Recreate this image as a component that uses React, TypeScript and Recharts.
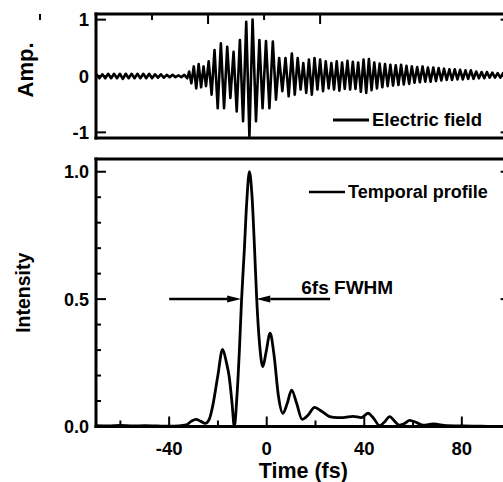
import React from 'react'
import { LineChart, Line, XAxis, YAxis, Legend, ReferenceLine, ReferenceDot } from 'recharts'

const FONT = '"Liberation Sans", Arial, Helvetica, sans-serif'

// electric field: extrema (fs, arb. units)
const fieldTime = [
  -70.0, -69.8, -68.6, -67.4, -66.2, -65.0, -63.8, -62.6, -61.4, -60.2, -59.0, -57.8, -56.6, -55.4,
  -54.2, -53.0, -51.8, -50.6, -49.4, -48.2, -47.0, -45.8, -44.6, -43.4, -42.2, -41.0, -39.8, -38.6,
  -37.4, -36.2, -35.0, -33.8, -32.6, -31.8, -30.9, -29.9, -28.9, -27.9, -26.9, -25.9, -24.9, -23.8,
  -22.6, -21.4, -20.1, -18.8, -17.5, -16.2, -14.9, -13.6, -12.3, -11.0, -9.7, -8.4, -7.1, -5.8,
  -4.4, -3.0, -1.7, -0.3, 1.1, 2.5, 3.8, 5.1, 6.4, 7.7, 9.0, 10.3, 11.5, 12.7, 13.9, 15.0, 16.2,
  17.3, 18.5, 19.6, 20.8, 21.9, 23.1, 24.2, 25.4, 26.5, 27.6, 28.7, 29.8, 30.9, 32.0, 33.1, 34.2,
  35.3, 36.4, 37.5, 38.6, 39.7, 40.8, 41.9, 43.0, 44.1, 45.2, 46.3, 47.4, 48.5, 49.6, 50.7, 51.8,
  52.9, 54.0, 55.1, 56.2, 57.3, 58.4, 59.5, 60.6, 61.7, 62.8, 63.9, 65.0, 66.1, 67.2, 68.3, 69.4,
  70.5, 71.6, 72.7, 73.8, 74.9, 76.0, 77.1, 78.2, 79.3, 80.4, 81.5, 82.6, 83.7, 84.8, 85.9, 87.0,
  88.1, 89.2, 90.3, 91.4, 92.5, 93.6, 94.7, 95.8, 96.9, 98.0, 99.1, 100.0,
]
const fieldAmp = [
  0, 0.03, -0.04, 0.03, -0.04, 0.04, -0.04, 0.04, -0.04, 0.04, -0.05, 0.04, -0.04, 0.04,
  -0.04, 0.04, -0.04, 0.04, -0.04, 0.04, -0.04, 0.03, -0.03, 0.03, -0.03, 0.02, -0.02, 0.02,
  -0.02, 0.01, -0.02, 0.02, -0.04, 0.08, -0.13, 0.17, -0.22, 0.21, -0.2, 0.17, -0.18, 0.26,
  -0.33, 0.46, -0.57, 0.58, -0.57, 0.52, -0.39, 0.43, -0.63, 0.64, -0.8, 0.96, -1.07, 1.0,
  -0.8, 0.64, -0.57, 0.62, -0.57, 0.61, -0.42, 0.32, -0.27, 0.32, -0.36, 0.4, -0.33, 0.32, -0.24, 0.23, -0.3,
  0.29, -0.33, 0.32, -0.24, 0.29, -0.27, 0.26, -0.22, 0.23, -0.24, 0.26, -0.26, 0.24, -0.23, 0.27, -0.24,
  0.25, -0.23, 0.24, -0.28, 0.29, -0.3, 0.3, -0.25, 0.24, -0.22, 0.22, -0.2, 0.21, -0.18, 0.2, -0.17,
  0.19, -0.16, 0.2, -0.15, 0.18, -0.14, 0.17, -0.12, 0.16, -0.11, 0.17, -0.1, 0.15, -0.1, 0.15, -0.09,
  0.14, -0.08, 0.13, -0.07, 0.12, -0.07, 0.12, -0.06, 0.11, -0.06, 0.1, -0.05, 0.1, -0.05, 0.08, -0.04,
  0.07, -0.04, 0.07, -0.03, 0.06, -0.03, 0.05, -0.03, 0.05, -0.02, 0.04, 0,
]

// temporal intensity profile (lower panel)
const profileTime = [
  -70, -65, -60, -55, -50, -45, -40, -36, -33, -31, -29, -27, -25.2, -23.5, -22.2, -20.1, -18.1,
  -16.5, -15.4, -14.2, -13.3, -12.2, -11.2, -10.3, -9.2, -8.2, -7.1, -6.0, -5.0, -4.1, -2.9, -1.6,
  -0.3, 1.4, 3.0, 4.8, 6.6, 8.4, 10.2, 12.3, 14.5, 17.0, 19.6, 22.5, 25.8, 29, 31.3, 35.4, 38.8,
  41.5, 44, 46.3, 48.5, 50.4, 52.5, 54.3, 56.5, 58.6, 61.5, 64.2, 68.3, 73.8, 80.7, 88, 95, 100,
]
const profileIntensity = [
  0.003, 0.002, 0.004, 0.002, 0.003, 0.002, 0.001, 0.002, 0.006, 0.02, 0.028, 0.02, 0.012, 0.03,
  0.078, 0.196, 0.303, 0.25, 0.196, 0.09, 0.0, 0.12, 0.3, 0.5, 0.69, 0.88, 1.0, 0.9, 0.7, 0.5, 0.32,
  0.235, 0.29, 0.366, 0.28, 0.12, 0.052, 0.09, 0.143, 0.09, 0.028, 0.045, 0.075, 0.06, 0.039, 0.035,
  0.035, 0.04, 0.035, 0.052, 0.03, 0.003, 0.02, 0.039, 0.02, 0.005, 0.012, 0.024, 0.015, 0.005,
  0.01, 0.003, 0.002, 0.001, 0, 0,
]

const timeTicks = [-60, -40, -20, 0, 20, 40, 60, 80]
const timeLabels = [-40, 0, 40, 80]
const ampTicks = [-1, 0, 1]
const intensityTicks = [0, 0.1, 0.2, 0.3, 0.4, 0.5, 0.6, 0.7, 0.8, 0.9, 1.0]
const intensityLabels = [0, 0.5, 1]

// FWHM arrows at half maximum: tail -> tip (fs)
const fwhmLevel = 0.5
const fwhmArrows = [
  { from: -40, to: -10.5 },
  { from: 26, to: -4.3 },
]

const fieldData = fieldTime.map((t, i) => ({ t, amp: fieldAmp[i] }))
const profileData = profileTime.map((t, i) => ({ t, intensity: profileIntensity[i] }))

const frame = { stroke: '#000', strokeWidth: 3, strokeLinecap: 'square' as const }
const textStyle = { fontFamily: FONT, fill: '#000', fontWeight: 'bold' as const }

const BottomTimeTick = (props: any) => {
  const { x, y, payload } = props
  const major = payload.value % 40 === 0
  return (
    <g>
      <line x1={x} x2={x} y1={y} y2={y - (major ? 10 : 6)} stroke="#000" strokeWidth={2} />
      {timeLabels.includes(payload.value) && (
        <text x={x} y={y + 28.5} textAnchor="middle" fontSize={18.5} {...textStyle}>
          {payload.value}
        </text>
      )}
    </g>
  )
}

const TopTimeTick = (props: any) => {
  const { x, y, payload } = props
  const major = payload.value % 40 === 0
  return <line x1={x} x2={x} y1={y} y2={y + (major ? 10 : 6)} stroke="#000" strokeWidth={2} />
}

const makeLeftTick = (labels: number[], fmt: (v: number) => string, size: number) => (props: any) => {
  const { x, y, payload } = props
  const major = labels.some((l) => Math.abs(l - payload.value) < 1e-6)
  return (
    <g>
      <line x1={x} x2={x + (major ? 10 : 5)} y1={y} y2={y} stroke="#000" strokeWidth={2} />
      {major && (
        <text x={x - 7} y={y + 6.5} textAnchor="end" fontSize={size} {...textStyle}>
          {fmt(payload.value)}
        </text>
      )}
    </g>
  )
}

const makeRightTick = (labels: number[]) => (props: any) => {
  const { x, y, payload } = props
  const major = labels.some((l) => Math.abs(l - payload.value) < 1e-6)
  return <line x1={x} x2={x - (major ? 10 : 5)} y1={y} y2={y} stroke="#000" strokeWidth={2} />
}

const yTitle = (value: string, left: number, shift: number, size: number) => (props: any) => {
  const vb = props.viewBox
  const cx = vb.x + left
  const cy = vb.y + vb.height / 2 + shift
  return (
    <text
      x={cx}
      y={cy}
      transform={`rotate(-90 ${cx} ${cy})`}
      textAnchor="middle"
      dominantBaseline="central"
      fontSize={size}
      {...textStyle}
    >
      {value}
    </text>
  )
}

const legendContent = (lineWidth: number, fontSize: number) => (props: any) => {
  const item = props.payload?.[0]
  return (
    <div style={{ display: 'flex', alignItems: 'center', height: 22 }}>
      <svg width={36} height={22}>
        <line x1={0} x2={36} y1={11} y2={11} stroke="#000" strokeWidth={lineWidth} />
      </svg>
      <span
        style={{
          marginLeft: 3,
          fontSize,
          fontFamily: FONT,
          fontWeight: 'bold',
          color: '#000',
          lineHeight: '22px',
          whiteSpace: 'nowrap',
        }}
      >
        {item?.value}
      </span>
    </div>
  )
}

const Arrow = (props: any) => {
  const { x1, y1, x2, y2 } = props
  const dir = x2 > x1 ? 1 : -1
  const head = 14
  return (
    <g>
      <line x1={x1} y1={y1} x2={x2 - dir * head} y2={y2} stroke="#000" strokeWidth={2.5} />
      <polygon
        points={`${x2},${y2} ${x2 - dir * head},${y2 - 3.5} ${x2 - dir * head},${y2 + 3.5}`}
        fill="#000"
      />
    </g>
  )
}

const X_DOMAIN: [number, number] = [-70, 100]

export default function App() {
  return (
    <div
      style={{ position: 'absolute', left: 0, top: 0, width: 503, height: 482, overflow: 'hidden', background: '#fff' }}
    >
      <LineChart width={520} height={150} data={fieldData} margin={{ top: 13, right: 8.4, bottom: 11, left: 0 }}>
        <XAxis
          xAxisId="top"
          orientation="top"
          type="number"
          domain={X_DOMAIN}
          allowDataOverflow
          ticks={timeTicks}
          interval={0}
          height={1}
          tickSize={0}
          tickMargin={0}
          tickLine={false}
          tick={TopTimeTick}
          axisLine={frame}
        />
        <XAxis
          xAxisId="main"
          dataKey="t"
          type="number"
          domain={X_DOMAIN}
          allowDataOverflow
          height={1}
          tick={false}
          tickLine={false}
          axisLine={frame}
        />
        <YAxis
          yAxisId="left"
          domain={[-1.1, 1.1]}
          allowDataOverflow
          ticks={ampTicks}
          interval={0}
          width={96}
          tickSize={0}
          tickMargin={0}
          tickLine={false}
          tick={makeLeftTick(ampTicks, (v) => String(v), 18.5)}
          axisLine={frame}
          label={yTitle('Amp.', 25, -6, 22)}
        />
        <YAxis
          yAxisId="right"
          orientation="right"
          domain={[-1.1, 1.1]}
          allowDataOverflow
          ticks={ampTicks}
          interval={0}
          width={1}
          tickSize={0}
          tickMargin={0}
          tickLine={false}
          tick={makeRightTick(ampTicks)}
          axisLine={frame}
        />
        <Legend
          layout="vertical"
          verticalAlign="middle"
          align="center"
          wrapperStyle={{ left: 333, top: 109, width: 'auto' }}
          content={legendContent(3, 18.5)}
        />
        <Line
          xAxisId="main"
          yAxisId="left"
          name="Electric field"
          type="linear"
          dataKey="amp"
          stroke="#000"
          strokeWidth={2.6}
          strokeLinejoin="round"
          dot={false}
          isAnimationActive={false}
        />
      </LineChart>
      <LineChart width={520} height={332} data={profileData} margin={{ top: 8, right: 8.4, bottom: 54.5, left: 0 }}>
        <XAxis
          xAxisId="top"
          orientation="top"
          type="number"
          domain={X_DOMAIN}
          allowDataOverflow
          height={1}
          tick={false}
          tickLine={false}
          axisLine={frame}
        />
        <XAxis
          xAxisId="main"
          dataKey="t"
          type="number"
          domain={X_DOMAIN}
          allowDataOverflow
          ticks={timeTicks}
          interval={0}
          height={1}
          tickSize={0}
          tickMargin={0}
          tickLine={false}
          tick={BottomTimeTick}
          axisLine={frame}
          label={{ value: 'Time (fs)', position: 'bottom', offset: 35, fontSize: 21.5, ...textStyle }}
        />
        <YAxis
          yAxisId="left"
          domain={[0, 1.05]}
          allowDataOverflow
          ticks={intensityTicks}
          interval={0}
          width={96}
          tickSize={0}
          tickMargin={0}
          tickLine={false}
          tick={makeLeftTick(intensityLabels, (v) => v.toFixed(1), 18)}
          axisLine={frame}
          label={yTitle('Intensity', 23, 0, 19.5)}
        />
        <YAxis
          yAxisId="right"
          orientation="right"
          domain={[0, 1.05]}
          allowDataOverflow
          ticks={intensityTicks}
          interval={0}
          width={1}
          tickSize={0}
          tickMargin={0}
          tickLine={false}
          tick={makeRightTick(intensityLabels)}
          axisLine={frame}
        />
        <Legend
          layout="vertical"
          verticalAlign="middle"
          align="center"
          wrapperStyle={{ left: 309, top: 30.7, width: 'auto' }}
          content={legendContent(2.5, 18)}
        />
        {fwhmArrows.map((a, i) => (
          <ReferenceLine
            key={i}
            xAxisId="main"
            yAxisId="left"
            segment={[
              { x: a.from, y: fwhmLevel },
              { x: a.to, y: fwhmLevel },
            ]}
            shape={Arrow}
          />
        ))}
        <ReferenceDot
          xAxisId="main"
          yAxisId="left"
          x={33}
          y={0.548}
          r={0}
          fill="none"
          stroke="none"
          label={{ value: '6fs FWHM', position: 'center', fontSize: 19, ...textStyle }}
        />
        <Line
          xAxisId="main"
          yAxisId="left"
          name="Temporal profile"
          type="monotone"
          dataKey="intensity"
          stroke="#000"
          strokeWidth={2.8}
          dot={false}
          isAnimationActive={false}
        />
      </LineChart>
    </div>
  )
}
